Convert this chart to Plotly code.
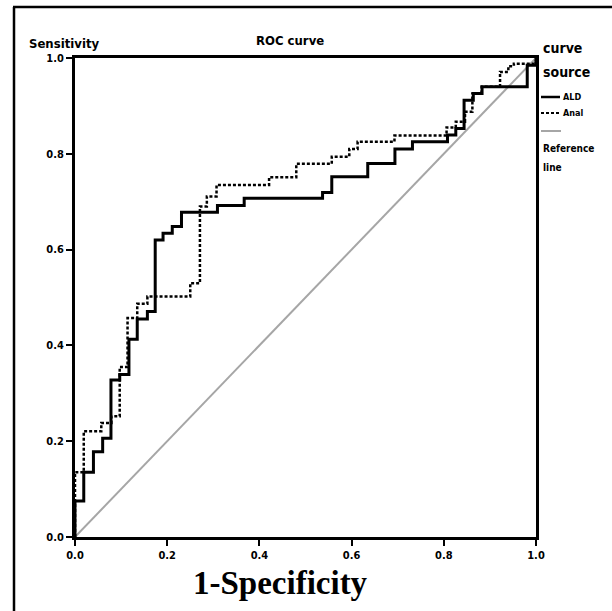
import plotly.graph_objects as go

# ---- data ----
ald_fpr = [0.0, 0.0, 0.019, 0.040, 0.060, 0.078, 0.097, 0.117, 0.135, 0.157, 0.174,
           0.191, 0.211, 0.231, 0.309, 0.367, 0.537, 0.557, 0.635, 0.694, 0.732,
           0.808, 0.826, 0.844, 0.864, 0.883, 0.981, 1.0]
ald_tpr = [0.0, 0.075, 0.135, 0.178, 0.206, 0.328, 0.339, 0.413, 0.455, 0.471, 0.620,
           0.634, 0.648, 0.678, 0.692, 0.707, 0.719, 0.752, 0.780, 0.810, 0.825,
           0.839, 0.853, 0.912, 0.926, 0.940, 0.985, 1.0]

anal_fpr = [0.0, 0.0, 0.019, 0.057, 0.079, 0.097, 0.114, 0.135, 0.157, 0.250, 0.271,
            0.286, 0.307, 0.421, 0.480, 0.557, 0.595, 0.613, 0.693, 0.806, 0.826,
            0.846, 0.862, 0.882, 0.922, 0.940, 0.952, 1.0]
anal_tpr = [0.0, 0.135, 0.221, 0.238, 0.252, 0.355, 0.457, 0.487, 0.502, 0.530, 0.690,
            0.711, 0.735, 0.751, 0.779, 0.794, 0.810, 0.825, 0.838, 0.855, 0.867,
            0.888, 0.926, 0.940, 0.971, 0.983, 0.988, 1.0]

ref_x = [0.0, 1.0]
ref_y = [0.0, 1.0]

tick_vals = [0.0, 0.2, 0.4, 0.6, 0.8, 1.0]
tick_text = ["0.0", "0.2", "0.4", "0.6", "0.8", "1.0"]

series_names = ["ALD", "Anal"]

# ---- layout geometry (pixels) ----
W, H = 612, 611
L, R, T, B = 75, 536, 58, 537


def px(x):
    return (x - L) / (R - L)


def py(y):
    return (B - y) / (B - T)


SANS = "DejaVu Sans Condensed, Liberation Sans Narrow, sans-serif"

fig = go.Figure()
fig.add_trace(go.Scatter(x=ref_x, y=ref_y, mode="lines",
                         line=dict(color="#a6a6a6", width=2), showlegend=False))
fig.add_trace(go.Scatter(x=anal_fpr, y=anal_tpr, mode="lines", line_shape="hv",
                         name=series_names[1],
                         line=dict(color="black", width=2.5, dash="3px,2px"),
                         showlegend=False))
fig.add_trace(go.Scatter(x=ald_fpr, y=ald_tpr, mode="lines", line_shape="hv",
                         name=series_names[0],
                         line=dict(color="black", width=3), showlegend=False))

axis_common = dict(range=[0, 1], showgrid=False, zeroline=False, showline=True,
                   mirror=True, linecolor="black", linewidth=3,
                   ticks="outside", ticklen=6, tickwidth=2, tickcolor="black",
                   tickvals=tick_vals, ticktext=tick_text,
                   tickfont=dict(family=SANS, size=11, color="black", weight="bold"))

fig.update_layout(
    width=W, height=H,
    margin=dict(l=L, r=W - R, t=T, b=H - B),
    paper_bgcolor="white", plot_bgcolor="white",
    xaxis=axis_common, yaxis=axis_common,
    showlegend=False,
)


def label(text, x, y, size, anchor="left", family=SANS, weight="bold"):
    return dict(text=text, x=px(x), y=py(y), xref="paper", yref="paper",
                showarrow=False, xanchor=anchor, yanchor="middle",
                font=dict(family=family, size=size, color="black", weight=weight))


ann = [
    label("ROC curve", 290, 40, 13, "center"),
    label("Sensitivity", 27, 43, 13),
    label("1-Specificity", 280, 583, 33, "center",
          family="Liberation Serif, Times New Roman, serif", weight="bold"),
    # manual legend
    label("curve", 541, 48, 14),
    label("source", 541, 72, 14),
    label(series_names[0], 561, 97, 9),
    label(series_names[1], 561, 113, 9),
    label("Reference", 541, 148, 10),
    label("line", 541, 167, 10),
]
fig.update_layout(annotations=ann)

shapes = []
# legend samples
shapes.append(dict(type="line", xref="paper", yref="paper", x0=px(541), x1=px(560),
                   y0=py(97), y1=py(97), line=dict(color="black", width=2.5)))
shapes.append(dict(type="line", xref="paper", yref="paper", x0=px(541), x1=px(560),
                   y0=py(113), y1=py(113), line=dict(color="black", width=2, dash="3px,2px")))
shapes.append(dict(type="line", xref="paper", yref="paper", x0=px(541), x1=px(561),
                   y0=py(131), y1=py(131), line=dict(color="#a6a6a6", width=2)))
# outer frame (left and top edges visible)
shapes.append(dict(type="line", xref="paper", yref="paper", x0=px(14), x1=px(14),
                   y0=py(7), y1=py(615), line=dict(color="black", width=2.5)))
shapes.append(dict(type="line", xref="paper", yref="paper", x0=px(13), x1=px(615),
                   y0=py(7), y1=py(7), line=dict(color="black", width=2.5)))
fig.update_layout(shapes=shapes)

fig.write_html("out.html", config={"displayModeBar": False},
               post_script="document.body.style.margin='0';")
